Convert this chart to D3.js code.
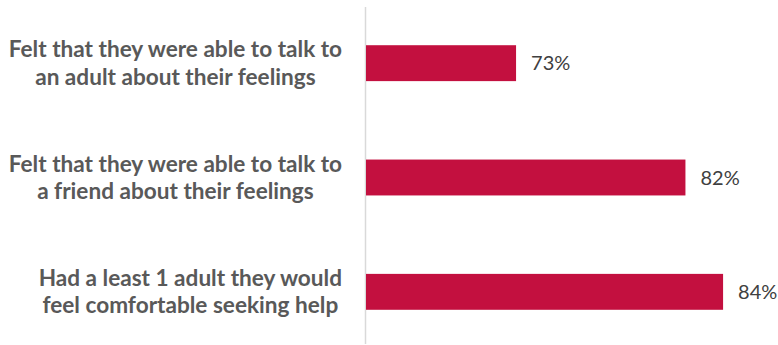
<!DOCTYPE html>
<html><head><meta charset="utf-8">
<script src="https://cdn.jsdelivr.net/npm/d3@7"></script>
<style>body{margin:0;background:#fff}svg{display:block}</style>
</head><body>
<svg id="c" width="778" height="345"></svg>
<script>
const categories = [
  ["Felt that they were able to talk to", "an adult about their feelings"],
  ["Felt that they were able to talk to", "a friend about their feelings"],
  ["Had a least 1 adult they would", "feel comfortable seeking help"]
];
const values = [73, 82, 84];
const valueLabels = ["73%", "82%", "84%"];

const svg = d3.select("#c");
const axisX = 365.5;
const x = d3.scaleLinear().domain([65, 85]).range([axisX, axisX + 376.4]);
const y = d3.scaleBand().domain(d3.range(categories.length)).range([6, 349])
  .paddingInner(0.686).paddingOuter(0.343);

svg.append("line").attr("x1", axisX).attr("x2", axisX).attr("y1", 7).attr("y2", 344)
  .attr("stroke", "#d9d9d9").attr("stroke-width", 1.5);

svg.selectAll("rect.bar").data(values).join("rect").attr("class", "bar")
  .attr("x", x(65) + 0.5).attr("y", (d, i) => y(i))
  .attr("width", d => x(d) - x(65) - 0.5).attr("height", y.bandwidth())
  .attr("fill", "#C3103F");

svg.selectAll("text.val").data(values).join("text").attr("class", "val")
  .attr("x", d => x(d) + 15).attr("y", (d, i) => y(i) + y.bandwidth() / 2)
  .attr("dy", "0.35em").attr("fill", "#404040")
  .style("font-family", "Lato, sans-serif").style("font-size", "20px")
  .text((d, i) => valueLabels[i]);

const rightEdge = 342;
categories.forEach((lines, i) => {
  const cy = y(i) + y.bandwidth() / 2;
  const g = svg.append("g");
  const ts = lines.map((t, k) => g.append("text")
    .attr("y", cy + (k - (lines.length - 1) / 2) * 27.5)
    .attr("dy", "0.35em").attr("text-anchor", "middle")
    .attr("fill", "#595959")
    .style("font-family", "Lato, sans-serif").style("font-weight", "bold").style("font-size", "22.6px")
    .text(t));
  const w = d3.max(ts, t => t.node().getComputedTextLength());
  ts.forEach(t => t.attr("x", rightEdge - w / 2));
});
</script>
</body></html>
